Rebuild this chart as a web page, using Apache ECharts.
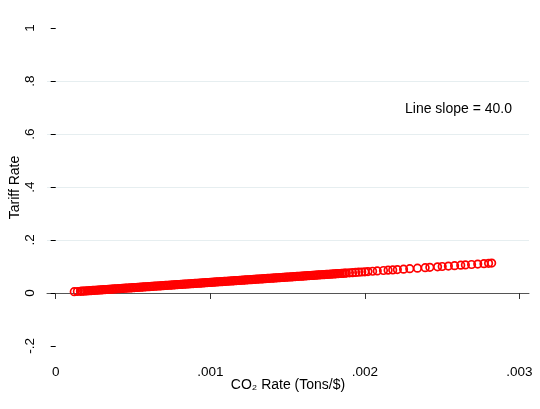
<!DOCTYPE html>
<html>
<head>
<meta charset="utf-8">
<script src="https://cdn.jsdelivr.net/npm/echarts@6/dist/echarts.min.js"></script>
<style>
html,body{margin:0;padding:0;background:#fff;}
#chart{width:540px;height:409px;}
</style>
</head>
<body>
<div id="chart"></div>
<script>
// CO2 rate (Tons/$) of each observation
var co2Rate = [
0.00012,0.00014,0.00016,0.00017,0.00018,0.00019,0.0002,0.00021,
0.00022,0.00023,0.00024,0.00025,0.00026,0.00027,0.00028,0.00029,0.0003,0.00031,
0.00032,0.00033,0.00034,0.00035,0.00036,0.00037,0.00038,0.00039,0.0004,0.00041,
0.00042,0.00043,0.00044,0.00045,0.00046,0.00047,0.00048,0.00049,0.0005,0.00051,
0.00052,0.00053,0.00054,0.00055,0.00056,0.00057,0.00058,0.00059,0.0006,0.00061,
0.00062,0.00063,0.00064,0.00065,0.00066,0.00067,0.00068,0.00069,0.0007,0.00071,
0.00072,0.00073,0.00074,0.00075,0.00076,0.00077,0.00078,0.00079,0.0008,0.00081,
0.00082,0.00083,0.00084,0.00085,0.00086,0.00087,0.00088,0.00089,0.0009,0.00091,
0.00092,0.00093,0.00094,0.00095,0.00096,0.00097,0.00098,0.00099,0.001,0.00101,
0.00102,0.00103,0.00104,0.00105,0.00106,0.00107,0.00108,0.00109,0.0011,0.00111,
0.00112,0.00113,0.00114,0.00115,0.00116,0.00117,0.00118,0.00119,0.0012,0.00121,
0.00122,0.00123,0.00124,0.00125,0.00126,0.00127,0.00128,0.00129,0.0013,0.00131,
0.00132,0.00133,0.00134,0.00135,0.00136,0.00137,0.00138,0.00139,0.0014,0.00141,
0.00142,0.00143,0.00144,0.00145,0.00146,0.00147,0.00148,0.00149,0.0015,0.00151,
0.00152,0.00153,0.00154,0.00155,0.00156,0.00157,0.00158,0.00159,0.0016,0.00161,
0.00162,0.00163,0.00164,0.00165,0.00166,0.00167,0.00168,0.00169,0.0017,0.00171,
0.00172,0.00173,0.00174,0.00175,0.00176,0.00177,0.00178,0.00179,0.0018,0.00181,
0.00182,0.00183,0.00184,0.00185,0.00186,0.00187,0.00188,0.0019,
0.00192,0.00194,0.00196,0.00198,0.002,0.00202,
0.00205,0.00208,0.00212,0.00215,0.00218,0.00221,0.00225,0.00229,0.00234,0.00239,
0.00242,0.00247,0.0025,0.00254,0.00258,0.00262,0.00265,0.00269,0.00273,0.00277,
0.0028,0.00282
];
// Tariff rate of each observation
var tariffRate = [
0.0048,0.0056,0.0064,0.0068,0.0072,0.0076,0.008,0.0084,
0.0088,0.0092,0.0096,0.01,0.0104,0.0108,0.0112,0.0116,0.012,0.0124,
0.0128,0.0132,0.0136,0.014,0.0144,0.0148,0.0152,0.0156,0.016,0.0164,
0.0168,0.0172,0.0176,0.018,0.0184,0.0188,0.0192,0.0196,0.02,0.0204,
0.0208,0.0212,0.0216,0.022,0.0224,0.0228,0.0232,0.0236,0.024,0.0244,
0.0248,0.0252,0.0256,0.026,0.0264,0.0268,0.0272,0.0276,0.028,0.0284,
0.0288,0.0292,0.0296,0.03,0.0304,0.0308,0.0312,0.0316,0.032,0.0324,
0.0328,0.0332,0.0336,0.034,0.0344,0.0348,0.0352,0.0356,0.036,0.0364,
0.0368,0.0372,0.0376,0.038,0.0384,0.0388,0.0392,0.0396,0.04,0.0404,
0.0408,0.0412,0.0416,0.042,0.0424,0.0428,0.0432,0.0436,0.044,0.0444,
0.0448,0.0452,0.0456,0.046,0.0464,0.0468,0.0472,0.0476,0.048,0.0484,
0.0488,0.0492,0.0496,0.05,0.0504,0.0508,0.0512,0.0516,0.052,0.0524,
0.0528,0.0532,0.0536,0.054,0.0544,0.0548,0.0552,0.0556,0.056,0.0564,
0.0568,0.0572,0.0576,0.058,0.0584,0.0588,0.0592,0.0596,0.06,0.0604,
0.0608,0.0612,0.0616,0.062,0.0624,0.0628,0.0632,0.0636,0.064,0.0644,
0.0648,0.0652,0.0656,0.066,0.0664,0.0668,0.0672,0.0676,0.068,0.0684,
0.0688,0.0692,0.0696,0.07,0.0704,0.0708,0.0712,0.0716,0.072,0.0724,
0.0728,0.0732,0.0736,0.074,0.0744,0.0748,0.0752,0.076,
0.0768,0.0776,0.0784,0.0792,0.08,0.0808,
0.082,0.0832,0.0848,0.086,0.0872,0.0884,0.09,0.0916,0.0936,0.0956,
0.0968,0.0988,0.1,0.1016,0.1032,0.1048,0.106,0.1076,0.1092,0.1108,
0.112,0.1128
];
var xTicks = [0, 0.001, 0.002, 0.003];
var xTickLabels = ['0', '.001', '.002', '.003'];
var yTicks = [-0.2, 0, 0.2, 0.4, 0.6, 0.8, 1];
var yTickLabels = ['-.2', '0', '.2', '.4', '.6', '.8', '1'];
var yGridValues = [0, 0.2, 0.4, 0.6, 0.8];
var annotation = 'Line slope = 40.0';

var points = co2Rate.map(function (v, i) { return [v, tariffRate[i]]; });
function lbl(ticks, labels) {
  return function (v) {
    for (var i = 0; i < ticks.length; i++) if (Math.abs(ticks[i] - v) < 1e-9) return labels[i];
    return '';
  };
}
var font = 'Liberation Sans, Arial, Helvetica, sans-serif';
var chart = echarts.init(document.getElementById('chart'), null, {renderer: 'canvas'});
chart.setOption({
  animation: false,
  backgroundColor: '#ffffff',
  grid: {left: 47, right: 11, top: 20, bottom: 54, containLabel: false, outerBoundsMode: 'none'},
  xAxis: {
    type: 'value',
    min: -0.0000563, max: 0.0030615,
    name: 'CO\u2082 Rate (Tons/$)',
    nameLocation: 'middle', nameGap: 23, nameMoveOverlap: false,
    nameTextStyle: {fontFamily: font, fontSize: 14, color: '#000'},
    axisLine: {show: true, lineStyle: {color: '#555', width: 1}},
    axisTick: {show: true, length: 6, customValues: xTicks, lineStyle: {color: '#333'}},
    axisLabel: {customValues: xTicks, formatter: lbl(xTicks, xTickLabels), fontFamily: font, fontSize: 13.5, color: '#000', margin: 10},
    splitLine: {show: false}
  },
  yAxis: {
    type: 'value',
    min: -0.234, max: 1.0302,
    name: 'Tariff Rate',
    nameLocation: 'middle', nameGap: 25, nameRotate: 90, nameMoveOverlap: false,
    nameTextStyle: {fontFamily: font, fontSize: 14, color: '#000'},
    axisLine: {show: false},
    axisTick: {show: true, length: 5, customValues: yTicks, lineStyle: {color: '#000'}},
    axisLabel: {customValues: yTicks, formatter: lbl(yTicks, yTickLabels), rotate: 90, fontFamily: font, fontSize: 13.5, color: '#000', margin: 9.5},
    splitLine: {show: false}
  },
  graphic: [{
    type: 'text', left: 405, top: 102,
    style: {text: annotation, font: '14px ' + font, fill: '#000'}
  }],
  series: [{
    type: 'scatter',
    data: points,
    symbol: 'circle',
    symbolSize: 7.5,
    itemStyle: {color: 'rgba(0,0,0,0)', borderColor: '#ff0000', borderWidth: 1.7, opacity: 1},
    emphasis: {disabled: true},
    markLine: {
      silent: true, symbol: 'none', label: {show: false},
      lineStyle: {color: '#e6eef0', width: 1, type: 'solid'},
      data: yGridValues.map(function (v) { return {yAxis: v}; }),
      z: 0
    }
  }]
});
</script>
</body>
</html>
